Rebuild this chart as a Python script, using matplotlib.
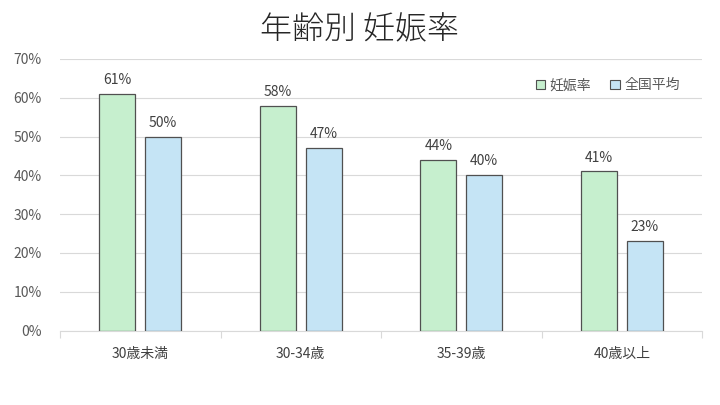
import matplotlib
matplotlib.use("Agg")
import matplotlib.pyplot as plt
import numpy as np
from matplotlib.patches import Patch
from matplotlib.ticker import FixedLocator, NullFormatter

plt.rcParams['font.family'] = ['Noto Sans CJK JP', 'DejaVu Sans']

categories = ['30歳未満', '30-34歳', '35-39歳', '40歳以上']
pregnancy_rate = [61, 58, 44, 41]
national_avg = [50, 47, 40, 23]
series_names = ['妊娠率', '全国平均']
yticks = [0, 10, 20, 30, 40, 50, 60, 70]

green = '#C6EFCE'
blue = '#C5E4F5'
edge = '#505050'

fig = plt.figure(figsize=(7.2, 4.05), dpi=100)
ax = fig.add_axes([60/720, 1-330.5/405, 642/720, 271.5/405])

x = np.arange(len(categories))
w = 0.225
off = 0.143
b1 = ax.bar(x - off, pregnancy_rate, w, color=green, edgecolor=edge, linewidth=0.9, zorder=3)
b2 = ax.bar(x + off, national_avg, w, color=blue, edgecolor=edge, linewidth=0.9, zorder=3)

for bars, vals in ((b1, pregnancy_rate), (b2, national_avg)):
    for r, v in zip(bars, vals):
        ax.text(r.get_x() + r.get_width()/2, v + 3.6, f'{v}%', ha='center', va='center',
                fontsize=10, color='#404040')

ax.set_xlim(-0.5, 3.5)
ax.set_ylim(0, 70)
ax.set_yticks(yticks)
ax.set_yticklabels([f'{t}%' for t in yticks])
ax.set_xticks(x)
ax.set_xticklabels(categories)
ax.tick_params(axis='x', length=0, pad=12, labelsize=10, labelcolor='#404040')
ax.tick_params(axis='y', length=0, pad=13, labelsize=10, labelcolor='#595959')
ax.xaxis.set_minor_locator(FixedLocator([-0.5, 0.5, 1.5, 2.5, 3.5]))
ax.xaxis.set_minor_formatter(NullFormatter())
ax.tick_params(axis='x', which='minor', length=5, color='#d9d9d9', width=0.8)
ax.grid(axis='y', color='#d9d9d9', linewidth=0.8, zorder=0)
for s in ['top', 'right', 'left']:
    ax.spines[s].set_visible(False)
ax.spines['bottom'].set_color('#d9d9d9')
ax.spines['bottom'].set_linewidth(0.8)

handles = [Patch(facecolor=green, edgecolor=edge, linewidth=0.8),
           Patch(facecolor=blue, edgecolor=edge, linewidth=0.8)]
leg = ax.legend(handles, series_names, loc='upper right', bbox_to_anchor=(0.985, 0.975),
                ncol=2, frameon=False, fontsize=10, handlelength=0.7, handleheight=0.7,
                handletextpad=0.3, columnspacing=1.4)
for t in leg.get_texts():
    t.set_color('#595959')

fig.text(0.5, 1-30/405, '年齢別 妊娠率', ha='center', va='center', fontsize=23,
         color='#262626', fontweight='light')

fig.savefig('out.png', dpi=100, facecolor='white')
